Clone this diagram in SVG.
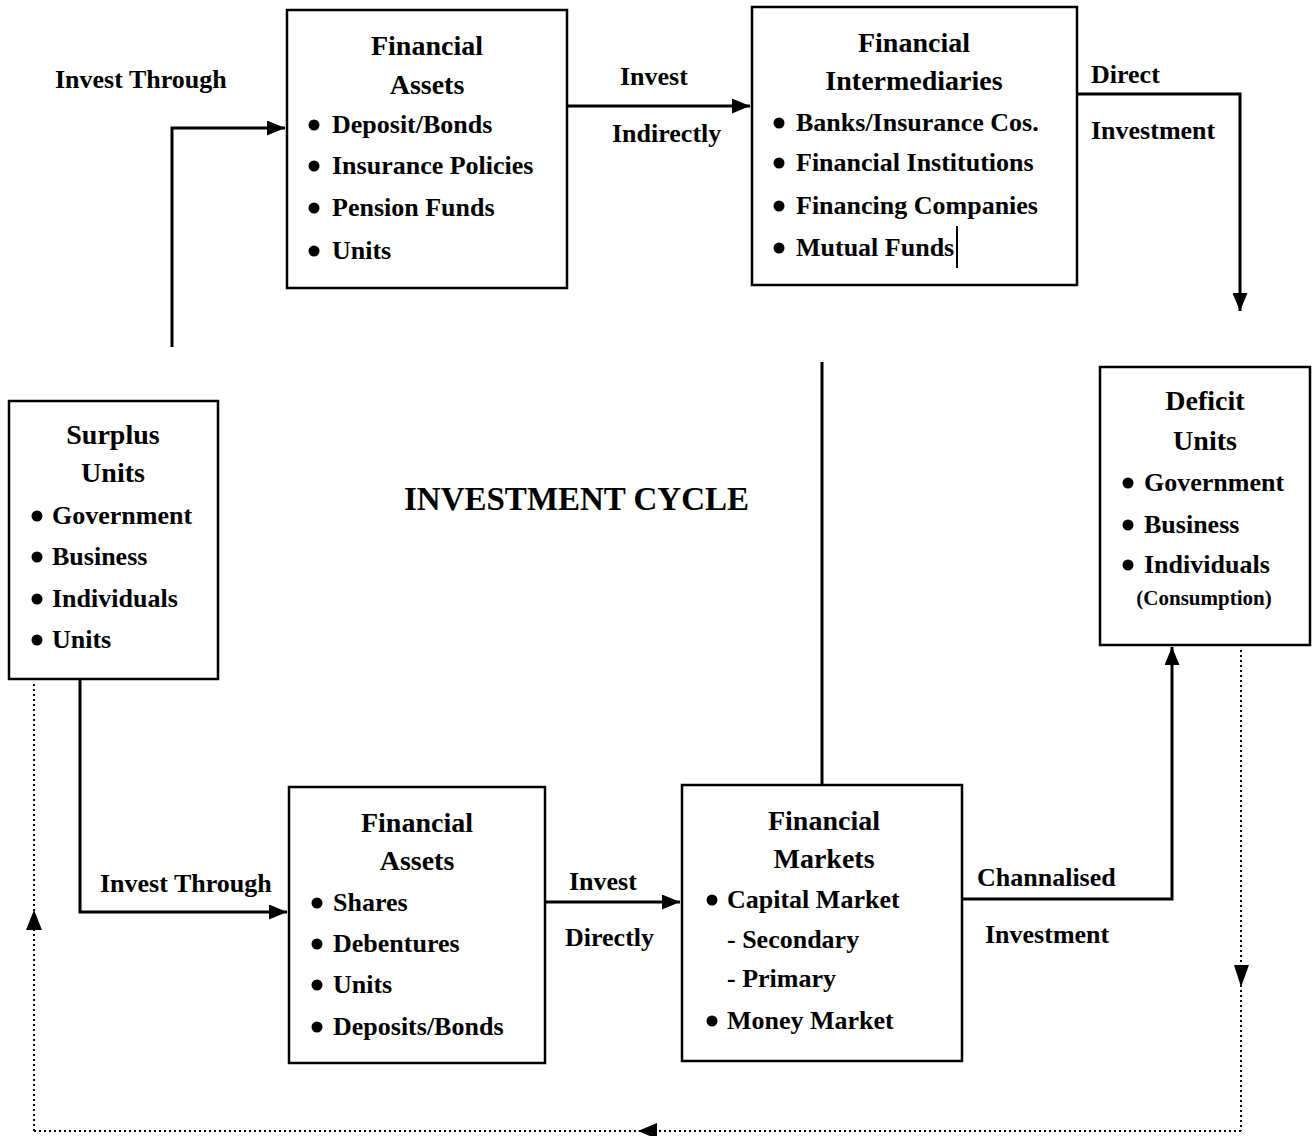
<svg xmlns="http://www.w3.org/2000/svg" width="1314" height="1136" viewBox="0 0 1314 1136">
<style>
.box{fill:#fff;stroke:#000;stroke-width:2.5}
text{font-family:"Liberation Serif","Times New Roman",serif;font-weight:bold;font-size:26px;fill:#000}
.c{text-anchor:middle}
.h{font-size:28px}
.big{font-size:33px}
.sm{font-size:21px}
.ln{fill:none;stroke:#000;stroke-width:3}
.dot{fill:none;stroke:#000;stroke-width:2;stroke-dasharray:2 3}
.bul{fill:#000}
</style>
<defs>
<marker id="ah" viewBox="0 0 10 10" refX="10" refY="5" markerWidth="6" markerHeight="5" orient="auto" markerUnits="strokeWidth" preserveAspectRatio="none">
<path d="M0,0 L10,5 L0,10 z" fill="#000"/>
</marker>
</defs>
<rect width="1314" height="1136" fill="#fff"/>
<g id="connectors">
<polyline class="ln" points="172,347 172,128 285,128" marker-end="url(#ah)"/>
<line class="ln" x1="567" y1="106" x2="750" y2="106" marker-end="url(#ah)"/>
<polyline class="ln" points="1077,94 1240,94 1240,311" marker-end="url(#ah)"/>
<line class="ln" x1="822" y1="362" x2="822" y2="785"/>
<polyline class="ln" points="80,679 80,912 287,912" marker-end="url(#ah)"/>
<line class="ln" x1="545" y1="902" x2="680" y2="902" marker-end="url(#ah)"/>
<polyline class="ln" points="962,899 1172,899 1172,647" marker-end="url(#ah)"/>
<line class="dot" x1="1241" y1="650" x2="1241" y2="1131"/>
<path d="M1234,965 L1249,965 L1241,987 z" fill="#000"/>
<line class="dot" x1="1241" y1="1131" x2="34" y2="1131"/>
<path d="M638,1131 L657,1123 L657,1139 z" fill="#000"/>
<line class="dot" x1="34" y1="1131" x2="34" y2="683"/>
<path d="M26,930 L42,930 L34,910 z" fill="#000"/>
</g>
<g id="label-invest-through-top"><text x="55" y="88">Invest Through</text></g>
<g id="label-invest-indirectly"><text x="620" y="85">Invest</text><text x="612" y="142">Indirectly</text></g>
<g id="label-direct-investment"><text x="1091" y="83">Direct</text><text x="1091" y="139">Investment</text></g>
<g id="label-investment-cycle"><text class="big" x="404" y="510">INVESTMENT CYCLE</text></g>
<g id="label-invest-through-bottom"><text x="100" y="892">Invest Through</text></g>
<g id="label-invest-directly"><text x="569" y="890">Invest</text><text x="565" y="946">Directly</text></g>
<g id="label-channalised"><text x="977" y="886">Channalised</text><text x="985" y="943">Investment</text></g>
<g id="fin-assets-top">
<rect class="box" x="287" y="10" width="280" height="278"/>
<text class="c h" x="427" y="55">Financial</text>
<text class="c h" x="427" y="94">Assets</text>
<circle class="bul" cx="314" cy="125" r="5.5"/><text x="332" y="133">Deposit/Bonds</text>
<circle class="bul" cx="314" cy="166" r="5.5"/><text x="332" y="174">Insurance Policies</text>
<circle class="bul" cx="314" cy="208" r="5.5"/><text x="332" y="216">Pension Funds</text>
<circle class="bul" cx="314" cy="251" r="5.5"/><text x="332" y="259">Units</text>
</g>
<g id="fin-intermediaries">
<rect class="box" x="752" y="7" width="325" height="278"/>
<text class="c h" x="914" y="52">Financial</text>
<text class="c h" x="914" y="90">Intermediaries</text>
<circle class="bul" cx="779" cy="123" r="5.5"/><text x="796" y="131">Banks/Insurance Cos.</text>
<circle class="bul" cx="779" cy="163" r="5.5"/><text x="796" y="171">Financial Institutions</text>
<circle class="bul" cx="779" cy="206" r="5.5"/><text x="796" y="214">Financing Companies</text>
<circle class="bul" cx="779" cy="248" r="5.5"/><text x="796" y="256">Mutual Funds</text>
<line x1="957" y1="226" x2="957" y2="268" stroke="#000" stroke-width="2"/>
</g>
<g id="surplus-units">
<rect class="box" x="9" y="401" width="209" height="278"/>
<text class="c h" x="113" y="444">Surplus</text>
<text class="c h" x="113" y="482">Units</text>
<circle class="bul" cx="37" cy="516" r="5.5"/><text x="52" y="524">Government</text>
<circle class="bul" cx="37" cy="557" r="5.5"/><text x="52" y="565">Business</text>
<circle class="bul" cx="37" cy="599" r="5.5"/><text x="52" y="607">Individuals</text>
<circle class="bul" cx="37" cy="640" r="5.5"/><text x="52" y="648">Units</text>
</g>
<g id="deficit-units">
<rect class="box" x="1100" y="367" width="210" height="278"/>
<text class="c h" x="1205" y="410">Deficit</text>
<text class="c h" x="1205" y="450">Units</text>
<circle class="bul" cx="1128" cy="483" r="5.5"/><text x="1144" y="491">Government</text>
<circle class="bul" cx="1128" cy="525" r="5.5"/><text x="1144" y="533">Business</text>
<circle class="bul" cx="1128" cy="565" r="5.5"/><text x="1144" y="573">Individuals</text>
<text class="c sm" x="1204" y="605">(Consumption)</text>
</g>
<g id="fin-assets-bottom">
<rect class="box" x="289" y="787" width="256" height="276"/>
<text class="c h" x="417" y="832">Financial</text>
<text class="c h" x="417" y="870">Assets</text>
<circle class="bul" cx="317" cy="903" r="5.5"/><text x="333" y="911">Shares</text>
<circle class="bul" cx="317" cy="944" r="5.5"/><text x="333" y="952">Debentures</text>
<circle class="bul" cx="317" cy="985" r="5.5"/><text x="333" y="993">Units</text>
<circle class="bul" cx="317" cy="1027" r="5.5"/><text x="333" y="1035">Deposits/Bonds</text>
</g>
<g id="fin-markets">
<rect class="box" x="682" y="785" width="280" height="276"/>
<text class="c h" x="824" y="830">Financial</text>
<text class="c h" x="824" y="868">Markets</text>
<circle class="bul" cx="712" cy="900" r="5.5"/><text x="727" y="908">Capital Market</text>
<text x="727" y="948">- Secondary</text>
<text x="727" y="987">- Primary</text>
<circle class="bul" cx="712" cy="1021" r="5.5"/><text x="727" y="1029">Money Market</text>
</g>
</svg>
